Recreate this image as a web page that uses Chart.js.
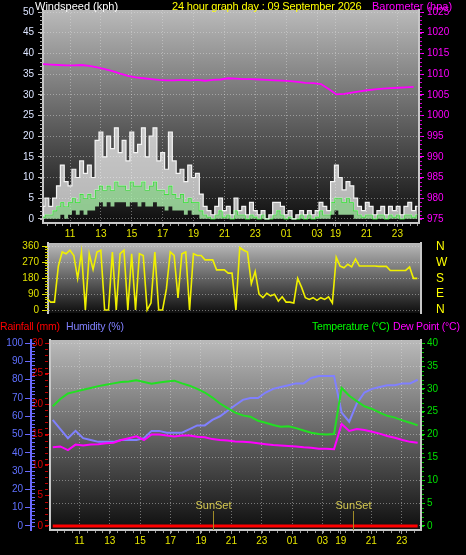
<!DOCTYPE html>
<html>
<head>
<meta charset="utf-8">
<script src="https://cdn.jsdelivr.net/npm/chart.js@4.4.1/dist/chart.umd.min.js"></script>
<style>
body { margin:0; background:#000; width:466px; height:555px; overflow:hidden; position:relative; font-family:"Liberation Sans", Arial, sans-serif; }
canvas { position:absolute; left:0; }
.lbl { position:absolute; font-size:11px; line-height:12px; white-space:nowrap; z-index:2; }
.leg { font-size:10.5px; letter-spacing:-0.2px; }
</style>
</head>
<body>
<canvas id="windChart" width="466" height="240" style="top:0"></canvas>
<canvas id="dirChart" width="466" height="100" style="top:228px"></canvas>
<canvas id="climateChart" width="466" height="223" style="top:332px"></canvas>

<span class="lbl" style="left:35px;top:0;color:#fff">Windspeed (kph)</span>
<span class="lbl" style="left:172px;top:0;color:#ffff00;letter-spacing:-0.15px">24 hour graph day : 09 September 2026</span>
<span class="lbl" style="left:372px;top:0;color:#ff00ff">Barometer (hpa)</span>
<span class="lbl leg" style="left:0;top:320px;color:#ff0000">Rainfall (mm)</span>
<span class="lbl leg" style="left:66px;top:320px;color:#8080ff">Humidity (%)</span>
<span class="lbl leg" style="left:312px;top:320px;color:#00ff00">Temperature (°C)</span>
<span class="lbl leg" style="left:393px;top:320px;color:#ff00ff">Dew Point (°C)</span>

<script>
// x axis: hours on the plot, the 03 -> 19 data gap squeezed out
const hourTicks = [11, 13, 15, 17, 19, 21, 23, 25, 27, 28.2, 30.2, 32.2];
const hourLabels = ['11', '13', '15', '17', '19', '21', '23', '01', '03', '19', '21', '23'];
const sunsetHours = [19.77, 28.97];

// wind + direction, one sample every 15 min from 09:15
const windStart = 9.25;
const windStep = 0.25;
const windGust = [3,5,3,5,8,13,9,8,12,10,
    14,11,13,10,19,21,15,20,17,22,
    16,19,14,21,16,18,22,15,20,22,
    14,16,12,21,14,11,12,9,13,10,
    11,6,3,2,1,3,5,2,3,1,
    5,2,3,1,4,2,1,2,0,1,
    4,4,3,1,2,0,1,2,1,2,
    1,2,4,3,2,9,13,10,7,9,
    8,5,3,2,4,3,1,2,3,1,
    3,2,3,1,3,4,2,3];
const windAvg = [0.5,1,1,2,3,4,3,4,5,4,
    6,5,6,5,7,8,7,8,7,9,
    8,8,7,9,8,8,9,7,8,9,
    7,7,6,8,6,5,6,4,5,4,
    4,2,1,0.5,0,1,2,0.5,1,0,
    2,1,1,0,1,0.5,0,1,0,0,
    1,2,1,0,0.5,0,0,1,0,1,
    0,0.5,2,1,1,4,5,5,4,5,
    4,2,1,0.5,1,1,0,1,1,0,
    1,0.5,1,0,1,1,0.5,1];
const windLull = [0,0,0,0,0,1,0,1,2,1,
    2,1,2,2,3,4,3,4,3,4,
    4,4,3,4,4,3,4,3,3,4,
    3,3,2,3,2,2,2,1,2,1,
    1,0,0,0,0,0,0,0,0,0,
    0,0,0,0,0,0,0,0,0,0,
    0,0,0,0,0,0,0,0,0,0,
    0,0,0,0,0,1,2,1,1,1,
    1,0,0,0,0,0,0,0,0,0,
    0,0,0,0,0,0,0,0];
const windDir = [65,65,45,45,250,330,320,340,310,180,
    330,0,320,230,330,340,0,0,330,0,
    320,340,0,320,0,320,310,0,40,330,
    0,0,120,330,310,68,320,330,0,320,
    310,310,285,285,285,228,228,228,210,210,
    0,355,340,330,150,220,90,70,95,80,
    90,50,75,45,45,40,180,130,70,60,
    70,55,70,60,75,40,300,250,240,260,
    245,290,250,250,250,250,250,248,248,248,
    225,225,225,225,225,245,180,180];

// slower readings, one every 30 min from 09:15
const climateStart = 9.25;
const climateStep = 0.5;
const pressure = [1012.4,1012.3,1012.2,1012.1,1012.1,1012.2,1012.0,1011.6,1011.2,1010.7,
    1010.1,1009.6,1009.2,1009.0,1008.8,1008.6,1008.5,1008.5,1008.6,1008.5,
    1008.6,1008.4,1008.6,1008.7,1009.0,1008.9,1008.8,1008.8,1008.7,1008.6,
    1008.5,1008.4,1008.3,1008.1,1007.9,1007.8,1007.6,1006.4,1005.1,1005.2,
    1005.5,1005.8,1006.1,1006.3,1006.5,1006.6,1006.7,1006.8,1006.9];
const temperature = [26.2,27.8,29.0,29.4,29.8,30.2,30.6,30.9,31.2,31.5,
    31.6,31.9,31.5,31.1,31.4,31.6,31.8,31.2,30.7,30.0,
    29.2,28.1,26.8,25.8,24.8,24.2,23.9,23.0,22.6,22.1,
    21.7,21.8,21.4,20.9,20.4,20.1,20.0,20.1,30.2,28.5,
    27.3,26.2,25.6,24.8,24.1,23.7,23.1,22.6,22.0];
const humidity = [58,53,48,52,48,47,46,46,46,47,
    47,47,48,52,52,51,51,51,53,55,
    55,58,60,63,66,69,70,70,73,75,
    76,77,78,78,81,82,82,82,62,57,
    67,73,75,76,77,77,78,78,80];
const dewPoint = [17.2,17.4,16.6,17.8,17.6,17.8,17.9,18.1,18.2,18.8,
    19.2,19.6,18.8,20.0,20.0,19.8,19.6,19.8,19.8,19.5,
    19.4,19.0,18.8,18.7,18.5,18.4,18.3,18.1,17.9,17.7,
    17.6,17.5,17.4,17.2,17.1,16.9,16.9,16.8,22.3,20.8,
    21.2,21.0,20.6,20.2,19.7,19.3,18.8,18.4,18.2];
const rainfall = [0,0,0,0,0,0,0,0,0,0,
    0,0,0,0,0,0,0,0,0,0,
    0,0,0,0,0,0,0,0,0,0,
    0,0,0,0,0,0,0,0,0,0,
    0,0,0,0,0,0,0,0,0];

// axis ticks
const windTicks = [0, 5, 10, 15, 20, 25, 30, 35, 40, 45, 50];
const baroTicks = [975, 980, 985, 990, 995, 1000, 1005, 1010, 1015, 1020, 1025];
const dirTicks = [0, 90, 180, 270, 360];
const compassLabels = ['N', 'E', 'S', 'W', 'N'];
const tempTicks = [0, 5, 10, 15, 20, 25, 30, 35, 40];
const humTicks = [0, 10, 20, 30, 40, 50, 60, 70, 80, 90, 100];
const rainTicks = [0, 5, 10, 15, 20, 25, 30];

Chart.defaults.font.family = '"Liberation Sans", Arial, sans-serif';
Chart.defaults.font.size = 10;

function series(values, start, step) {
    return values.map((v, i) => ({ x: start + i * step, y: v }));
}
const fixTicks = values => scale => { scale.ticks = values.map(v => ({ value: v })); };
const fitWidth = w => scale => { scale.width = w; };
const fitHeight = h => scale => { scale.height = h; };
const plain = v => String(v);

const plotBackground = {
    id: 'plotBackground',
    beforeDraw(chart) {
        const { ctx, chartArea: a } = chart;
        const g = ctx.createLinearGradient(0, a.top, 0, a.bottom);
        g.addColorStop(0, '#bababa');
        g.addColorStop(1, '#0e0e0e');
        ctx.save();
        ctx.fillStyle = g;
        ctx.fillRect(a.left, a.top, a.right - a.left, a.bottom - a.top);
        ctx.restore();
    }
};

// small unlabelled ticks between the labelled ones
const minorTicks = {
    id: 'minorTicks',
    afterDraw(chart, args, opts) {
        const ctx = chart.ctx;
        (opts.marks || []).forEach(m => {
            const s = chart.scales[m.axis];
            ctx.save();
            ctx.strokeStyle = m.color;
            ctx.lineWidth = 1;
            ctx.beginPath();
            for (let v = m.from; v <= m.to + 1e-9; v += m.step) {
                const p = Math.round(s.getPixelForValue(v)) + 0.5;
                if (s.isHorizontal()) {
                    ctx.moveTo(p, s.top + m.start);
                    ctx.lineTo(p, s.top + m.start + m.len);
                } else {
                    const edge = s.position === 'left' ? s.right : s.left;
                    const d = s.position === 'left' ? -1 : 1;
                    ctx.moveTo(edge + d * m.start, p);
                    ctx.lineTo(edge + d * (m.start + m.len), p);
                }
            }
            ctx.stroke();
            ctx.restore();
        });
    }
};

const sunsetMarks = {
    id: 'sunsetMarks',
    afterDatasetsDraw(chart) {
        const { ctx, chartArea: a, scales: { x } } = chart;
        ctx.save();
        ctx.font = '11px "Liberation Sans", Arial, sans-serif';
        ctx.textAlign = 'center';
        sunsetHours.forEach(h => {
            const px = Math.round(x.getPixelForValue(h)) + 0.5;
            ctx.strokeStyle = '#a08c28';
            ctx.lineWidth = 1;
            ctx.beginPath();
            ctx.moveTo(px, a.bottom - 19);
            ctx.lineTo(px, a.bottom);
            ctx.stroke();
            ctx.fillStyle = '#d4c850';
            ctx.fillText('SunSet', px, a.bottom - 21);
        });
        ctx.restore();
    }
};

const gridDots = 'rgba(225,225,225,0.45)';
const frame = { color: '#c8c8c8', width: 2 };

function xAxis(min, max, height) {
    return {
        type: 'linear', min: min, max: max,
        afterBuildTicks: fixTicks(hourTicks),
        afterFit: fitHeight(height),
        grid: { color: gridDots, tickColor: '#9a9a9a', tickLength: 4 },
        border: { dash: [1, 2], color: frame.color, width: frame.width },
        ticks: { color: '#e6e600', autoSkip: false, maxRotation: 0, padding: 1,
            callback: (v, i) => hourLabels[i] }
    };
}

// Windspeed + barometer
new Chart(document.getElementById('windChart'), {
    type: 'line',
    data: {
        datasets: [{
            data: series(windGust, windStart, windStep), yAxisID: 'y',
            borderColor: '#f4f4f4', borderWidth: 1.2, stepped: 'middle',
            backgroundColor: 'rgba(250,250,250,0.7)', fill: '+1'
        }, {
            data: series(windAvg, windStart, windStep), yAxisID: 'y',
            borderColor: '#2ee02e', borderWidth: 1.2, stepped: 'middle',
            backgroundColor: 'rgba(175,245,175,0.8)', fill: '+1'
        }, {
            data: series(windLull, windStart, windStep), yAxisID: 'y',
            borderColor: 'rgba(0,0,0,0)', borderWidth: 0, stepped: 'middle', fill: false
        }, {
            data: series(pressure, climateStart, climateStep), yAxisID: 'yBaro',
            borderColor: '#ff00ff', borderWidth: 1.8, fill: false
        }]
    },
    options: {
        responsive: false, animation: false,
        layout: { padding: { top: 10, bottom: 0, left: 0, right: 0 } },
        elements: { point: { radius: 0 }, line: { tension: 0 } },
        plugins: {
            legend: { display: false }, tooltip: { enabled: false },
            minorTicks: { marks: [
                { axis: 'y', from: 0, to: 50, step: 1, start: 0, len: 3, color: '#b4b4b4' },
                { axis: 'yBaro', from: 975, to: 1025, step: 1, start: 1, len: 2, color: '#d000d0' },
                { axis: 'x', from: 9.5, to: 33.5, step: 0.5, start: 1, len: 2, color: '#9a9a9a' }
            ] }
        },
        scales: {
            x: xAxis(9.25, 33.6, 17),
            y: {
                position: 'left', min: -1, max: 50.5,
                afterBuildTicks: fixTicks(windTicks), afterFit: fitWidth(43),
                grid: { color: gridDots, tickColor: '#bbbbbb', tickLength: 5 },
                border: { dash: [1, 2], color: frame.color, width: frame.width },
                ticks: { color: '#dce4ff', padding: 4, autoSkip: false, callback: plain }
            },
            yBaro: {
                position: 'right', min: 974, max: 1025.5,
                afterBuildTicks: fixTicks(baroTicks), afterFit: fitWidth(47),
                grid: { drawOnChartArea: false, tickColor: '#ff00ff', tickLength: 5 },
                border: { color: frame.color, width: frame.width },
                ticks: { color: '#ff00ff', padding: 3, autoSkip: false, callback: plain }
            }
        }
    },
    plugins: [plotBackground, minorTicks]
});

// Wind direction
new Chart(document.getElementById('dirChart'), {
    type: 'line',
    data: {
        datasets: [{
            data: series(windDir, windStart, windStep), yAxisID: 'y',
            borderColor: '#f0f000', borderWidth: 1.6, fill: false
        }]
    },
    options: {
        responsive: false, animation: false,
        layout: { padding: { top: 15, bottom: 15, left: 0, right: 0 } },
        elements: { point: { radius: 0 }, line: { tension: 0 } },
        plugins: {
            legend: { display: false }, tooltip: { enabled: false },
            minorTicks: { marks: [
                { axis: 'y', from: 0, to: 360, step: 15, start: 0, len: 3, color: '#d0d000' }
            ] }
        },
        scales: {
            x: { type: 'linear', min: 9.58, max: 33.74, display: false },
            y: {
                position: 'left', min: -17, max: 381,
                afterBuildTicks: fixTicks(dirTicks), afterFit: fitWidth(48),
                grid: { color: gridDots, tickColor: '#e0e000', tickLength: 6 },
                border: { dash: [1, 2], color: frame.color, width: frame.width },
                ticks: { color: '#e0e000', padding: 3, autoSkip: false }
            },
            yCompass: {
                position: 'right', min: -17, max: 381,
                afterBuildTicks: fixTicks(dirTicks), afterFit: fitWidth(45),
                grid: { drawOnChartArea: false, tickLength: 12, tickColor: 'rgba(0,0,0,0)' },
                border: { color: frame.color, width: frame.width },
                ticks: { color: '#ffff00', padding: 3, autoSkip: false, font: { size: 12 },
                    callback: (v, i) => compassLabels[i] }
            }
        }
    },
    plugins: [plotBackground, minorTicks]
});

// Rainfall, humidity, temperature, dew point
new Chart(document.getElementById('climateChart'), {
    type: 'line',
    data: {
        datasets: [{
            data: series(rainfall, climateStart, climateStep), yAxisID: 'yRain',
            borderColor: '#ff0000', borderWidth: 3, fill: false
        }, {
            data: series(temperature, climateStart, climateStep), yAxisID: 'yTemp',
            borderColor: '#22e022', borderWidth: 2, fill: false
        }, {
            data: series(dewPoint, climateStart, climateStep), yAxisID: 'yTemp',
            borderColor: '#ff00ff', borderWidth: 2, fill: false
        }, {
            data: series(humidity, climateStart, climateStep), yAxisID: 'yHum',
            borderColor: '#8080ff', borderWidth: 2, fill: false
        }]
    },
    options: {
        responsive: false, animation: false,
        layout: { padding: { top: 8, bottom: 0, left: 0, right: 0 } },
        elements: { point: { radius: 0 }, line: { tension: 0 } },
        plugins: {
            legend: { display: false }, tooltip: { enabled: false },
            minorTicks: { marks: [
                { axis: 'yHum', from: 0, to: 100, step: 2, start: -4, len: 3, color: '#6a6aff' },
                { axis: 'yRain', from: 0, to: 30, step: 1, start: 2, len: 3, color: '#c00000' },
                { axis: 'yTemp', from: 0, to: 40, step: 1, start: 1, len: 2, color: '#00c000' },
                { axis: 'x', from: 9.5, to: 33, step: 0.5, start: 1, len: 2, color: '#9a9a9a' }
            ] }
        },
        scales: {
            x: xAxis(9.07, 33.47, 25),
            yHum: {
                position: 'left', weight: 1, min: -2.25, max: 101.75,
                afterBuildTicks: fixTicks(humTicks), afterFit: fitWidth(31),
                grid: { drawOnChartArea: false, tickColor: '#6a6aff', tickLength: 6 },
                border: { color: '#6a6aff', width: 2 },
                ticks: { color: '#6070ff', padding: 2, autoSkip: false }
            },
            yRain: {
                position: 'left', weight: 0, min: -0.675, max: 30.525,
                afterBuildTicks: fixTicks(rainTicks), afterFit: fitWidth(19),
                grid: { drawOnChartArea: false, tickColor: '#e00000', tickLength: 5 },
                border: { color: frame.color, width: frame.width },
                ticks: { color: '#e00000', padding: 2, autoSkip: false }
            },
            yTemp: {
                position: 'right', min: -0.9, max: 40.7,
                afterBuildTicks: fixTicks(tempTicks), afterFit: fitWidth(45),
                grid: { color: gridDots, tickColor: '#00e000', tickLength: 4 },
                border: { dash: [1, 2], color: frame.color, width: frame.width },
                ticks: { color: '#00e000', padding: 2, autoSkip: false }
            }
        }
    },
    plugins: [plotBackground, sunsetMarks, minorTicks]
});
</script>
</body>
</html>
